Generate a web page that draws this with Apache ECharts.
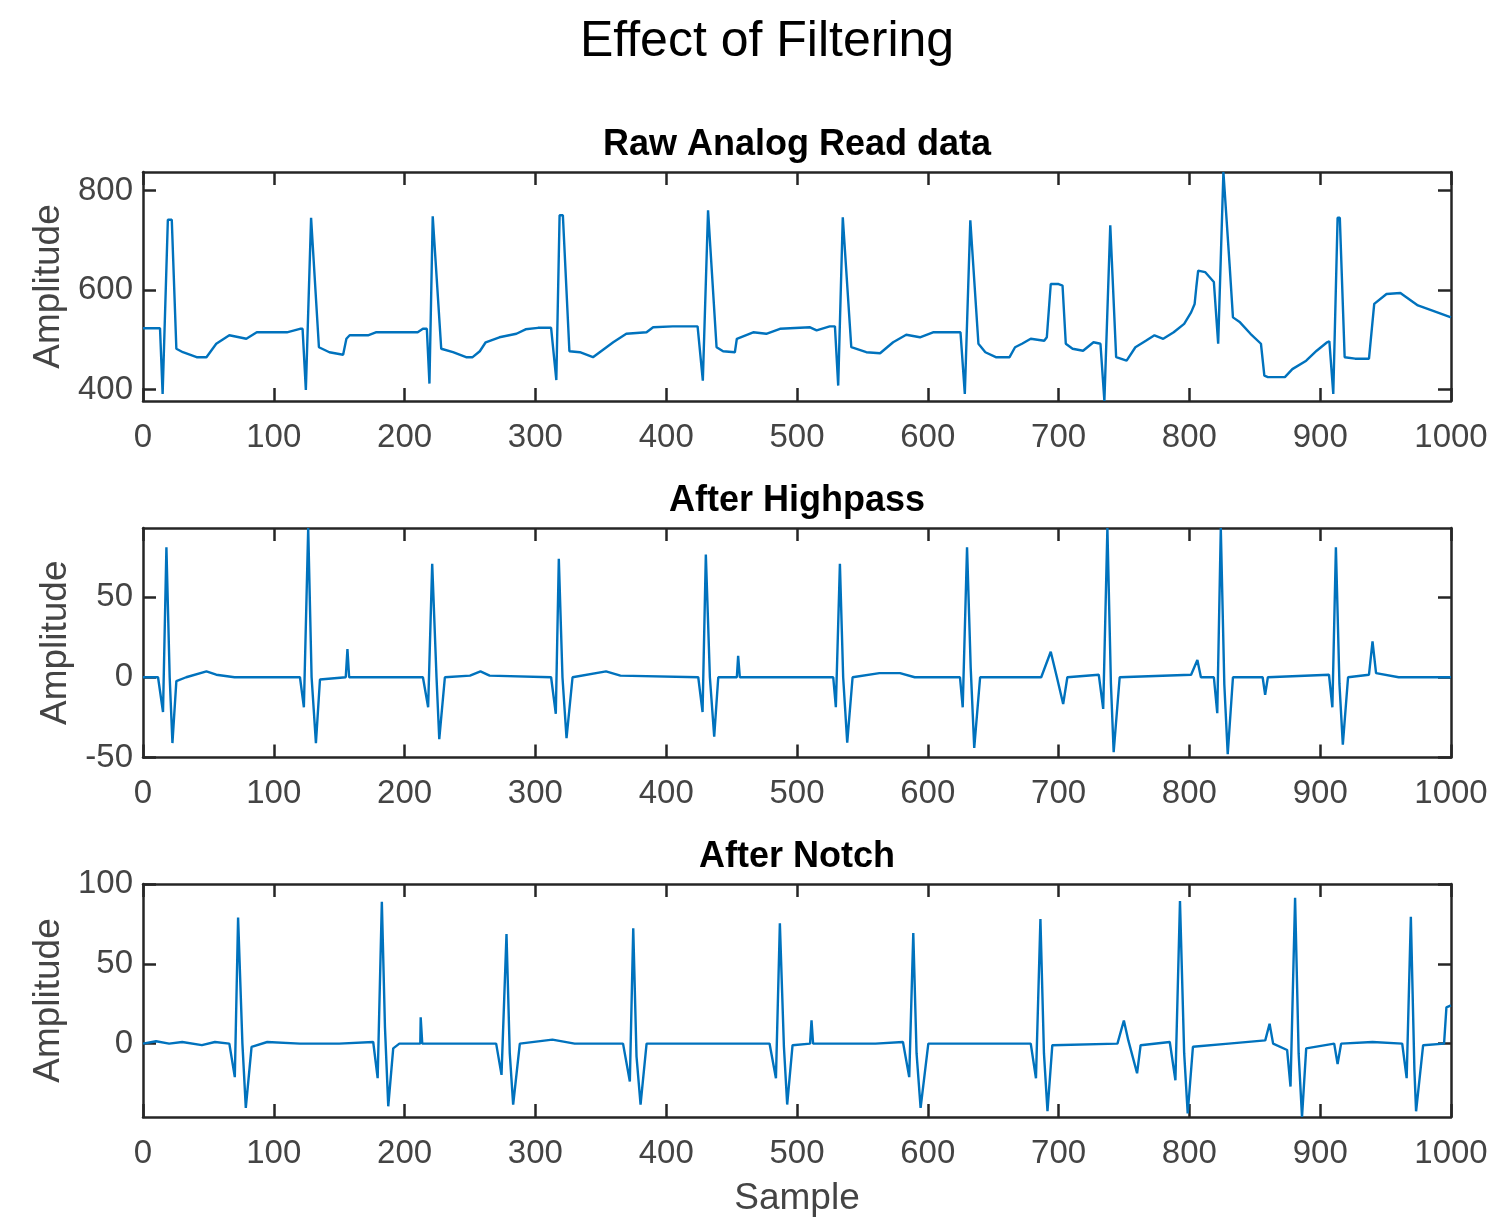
<!DOCTYPE html>
<html>
<head>
<meta charset="utf-8">
<title>Effect of Filtering</title>
<script src="https://cdn.jsdelivr.net/npm/echarts@6/dist/echarts.min.js"></script>
<style>
  html, body { margin: 0; padding: 0; background: #fff; }
  #chart { width: 1510px; height: 1219px; }
</style>
</head>
<body>
<div id="chart"></div>
<script>
// [sample, amplitude]
const rawPoints = [
  [0, 523], [13, 523], [15, 391], [19, 741], [22, 741], [25.5, 482], [30.5, 475], [41, 465], [48.5, 465],
  [56, 492], [66, 509], [79, 502], [87, 515], [110, 515], [120, 522], [122, 522],
  [124.5, 399], [128.5, 745], [130, 745], [134.5, 485], [142.5, 475], [153, 470], [155.5, 502], [158, 509],
  [172, 509], [178, 515], [210, 515], [214, 522], [217, 522],
  [219, 412], [221.5, 748], [223, 748], [228, 482], [237, 475], [247, 465], [252, 465], [257.5, 477],
  [262, 495], [272.5, 505], [285.5, 512], [292.5, 521], [302, 524], [312, 524],
  [316, 419], [318.5, 750], [321, 750], [326, 477], [334, 475], [344, 465], [359.5, 495], [369.5, 512],
  [385, 515], [390, 525], [405, 527], [424, 527],
  [428, 418], [432, 760], [433.5, 760], [438.5, 485], [443.5, 477], [452.5, 475], [454, 502], [466.5, 515],
  [476.5, 512], [487, 522], [510, 525], [515, 519], [525, 527], [529, 527],
  [531.5, 408], [535, 746], [536.5, 746], [541.5, 485], [553, 475], [563.5, 473], [573.5, 495], [583.5, 510],
  [594, 505], [604, 515], [625, 515],
  [628.3, 391], [632.5, 740], [634, 740], [638.7, 492], [644, 475], [652, 465], [662.5, 465], [666.7, 485],
  [672, 492], [678.7, 502], [689, 498], [691, 505], [694, 612], [700, 612], [703, 609], [705.5, 492],
  [710.7, 482], [718.7, 478], [726.7, 495], [732, 492],
  [735, 377], [739.5, 730], [741, 730], [744, 465], [752, 458], [758.7, 485], [766.7, 498], [773.3, 509],
  [780, 502], [788, 515], [796, 532], [801.3, 555], [804, 572], [805.3, 606], [806.7, 639], [812, 636],
  [818.7, 616], [822, 492],
  [826, 837], [827.5, 837], [830.7, 652], [833.3, 545], [838.7, 535], [846.7, 512], [854.7, 492],
  [857.3, 428], [860, 425], [873, 425], [878.7, 441], [889.3, 458], [897.3, 478], [905.3, 495], [907, 497],
  [910, 391], [913.3, 745], [915, 745], [918.7, 465], [926.7, 462], [937.3, 462], [941.3, 572],
  [950.7, 592], [961.3, 594], [974.7, 569], [985.3, 559], [1000, 545]
]

const highpassPoints = [
  [0, 0], [11.5, 0], [15.3, -21.7], [17.9, 81], [20.4, 0], [22.5, -41], [25.5, -2.4], [33, 0], [48.5, 3.7],
  [56, 1.6], [70, 0], [120, 0],
  [123, -18.7], [126.3, 93], [128.9, 0], [132.2, -41], [135.3, -1.4], [155, 0], [156.3, 17.5], [157.6, 0], [214, 0],
  [218, -18.7], [221.1, 70.7], [224.4, 0], [226.5, -38.6], [230.8, 0], [250, 1], [258, 3.7], [265, 1], [312, 0],
  [315.6, -22.8], [317.9, 73.8], [320.7, 0], [323.8, -38], [328.4, 0], [354, 3.7], [365, 1], [424.5, 0],
  [427.8, -21.7], [430.3, 76.4], [433.4, 0], [436.7, -37], [439.8, 0], [454, 0], [455, 13.4], [456.3, 0], [527.7, 0],
  [529.7, -18.7], [532.8, 70.7], [535.3, 0], [538.4, -40.7], [542.5, 0], [563, 2.6], [578.7, 2.6], [590, 0], [624.6, 0],
  [626.7, -18.7], [630, 81], [632.8, 6], [635.5, -44], [640, 0], [686.7, 0], [694, 15.9], [698.7, 0],
  [703.5, -16.7], [706.7, 0], [730.7, 1.6],
  [734.1, -19.7], [737.3, 93], [740, -4], [742.1, -46.7], [746.7, 0], [801.3, 1.6], [806.1, 10.8], [808.8, 0], [818.7, 0],
  [821.3, -22.4], [824, 93], [826.7, -4.5], [829.3, -48], [833.3, 0], [856, 0], [857.9, -11], [860, 0], [906.7, 1.6],
  [909.3, -18.7], [912, 81], [914.7, -4], [917.3, -42], [921.3, 0], [937.3, 1.6], [940, 22.4], [942.7, 2.6],
  [960, 0], [1000, 0]
]

const notchPoints = [
  [0, 0], [10, 1.5], [20, 0], [30, 1], [45, -1], [55, 1], [66, 0],
  [70.2, -21], [72.7, 79], [76, 0], [78.6, -40.3], [83, -2], [95, 1], [120, 0], [150, 0], [176, 1],
  [179.4, -21.7], [182.6, 88.8], [185, 10], [187.5, -39.3], [191.3, -3], [196, 0], [212, 0], [212.3, 16.5],
  [213.5, 0], [240, 0], [270, 0],
  [274.1, -19.6], [277.9, 68.6], [280.4, -6], [283, -38.2], [288.1, 0], [313, 2.5], [330, 0], [367, 0],
  [372.2, -23.8], [374.8, 72.3], [377.3, -8], [380.4, -38.2], [385, 0], [420, 0], [479, 0],
  [483.9, -21.7], [486.9, 75.4], [490, -2], [492.5, -38.2], [496.6, -1], [510, 0], [511.1, 14.5], [512.3, 0],
  [560, 0], [581, 1],
  [585.8, -21], [588.9, 69.2], [591.4, -6], [594.5, -40.3], [600.4, 0], [640, 0], [678.7, 0],
  [682.7, -21.7], [686.1, 78.1], [688.8, -6], [691.5, -42.4], [695.2, -1], [745, 0], [749.9, 14.5], [753.3, 2],
  [760, -18.6], [762.7, -1], [785, 1],
  [789.3, -23], [792.8, 89.3], [796, -6], [798.7, -43.8], [802.7, -2], [830, 0], [858, 2], [861.3, 12.4],
  [864, 0], [874.7, -4],
  [877.3, -26.9], [880.8, 91.3], [883.5, -6], [886.1, -46], [889.3, -3], [910.7, 0], [913.3, -12.8], [916, 0],
  [940, 1], [962.7, 0],
  [966.1, -21.7], [969.3, 79.5], [972, -16], [973.3, -42.4], [978.7, -1], [994.7, 0], [996.5, 22.7], [1000, 24]
]

const sampleTicks = [0, 100, 200, 300, 400, 500, 600, 700, 800, 900, 1000]
const rawTicks = [400, 600, 800]
const highpassTicks = [-50, 0, 50]
const notchTicks = [0, 50, 100]

const panels = [
  { title: 'Raw Analog Read data', data: rawPoints, ticks: rawTicks, min: 377, max: 837, top: 172, height: 229, nameGap: 76 },
  { title: 'After Highpass', data: highpassPoints, ticks: highpassTicks, min: -50, max: 93, top: 528, height: 229.5, nameGap: 69 },
  { title: 'After Notch', data: notchPoints, ticks: notchTicks, min: -46, max: 100, top: 884, height: 233, nameGap: 76 }
]

const axisColor = '#262626'
const labelColor = '#444'
const fontFamily = '"Liberation Sans", Arial, Helvetica, sans-serif'
const plain = v => String(v) // no thousands separator, like MATLAB

const chart = echarts.init(document.getElementById('chart'))

const grid = []
const xAxis = []
const yAxis = []
const series = []
const title = [{
  text: 'Effect of Filtering',
  left: 767,
  top: 17,
  textAlign: 'center',
  padding: 0,
  textStyle: { fontFamily, fontSize: 50, fontWeight: 'normal', color: '#000' }
}]

panels.forEach((p, i) => {
  grid.push({ left: 143, top: p.top, width: 1308, height: p.height })
  title.push({
    text: p.title,
    left: 797,
    top: p.top - 45,
    textAlign: 'center',
    padding: 0,
    textStyle: { fontFamily, fontSize: 36, fontWeight: 'bold', color: '#000' }
  })
  const line = { show: true, onZero: false, lineStyle: { color: axisColor, width: 2.5 } }
  const tick = values => ({ inside: true, length: 13, customValues: values, lineStyle: { color: axisColor, width: 2.5 } })
  // bottom x axis with labels, top x axis only ticks (MATLAB box)
  xAxis.push({
    type: 'value', gridIndex: i, position: 'bottom', min: 0, max: 1000,
    axisLine: line,
    axisTick: tick(sampleTicks),
    axisLabel: { customValues: sampleTicks, formatter: plain, margin: 20, fontFamily, fontSize: 33, color: labelColor },
    splitLine: { show: false },
    name: i === 2 ? 'Sample' : '',
    nameLocation: 'middle',
    nameGap: 63,
    nameTextStyle: { fontFamily, fontSize: 37, color: labelColor }
  })
  xAxis.push({
    type: 'value', gridIndex: i, position: 'top', min: 0, max: 1000,
    axisLine: line,
    axisTick: tick(sampleTicks),
    axisLabel: { show: false },
    splitLine: { show: false }
  })
  yAxis.push({
    type: 'value', gridIndex: i, position: 'left', min: p.min, max: p.max,
    axisLine: line,
    axisTick: tick(p.ticks),
    axisLabel: { customValues: p.ticks, formatter: plain, margin: 10, fontFamily, fontSize: 33, color: labelColor },
    splitLine: { show: false },
    name: 'Amplitude',
    nameLocation: 'middle',
    nameGap: p.nameGap,
    nameTextStyle: { fontFamily, fontSize: 37, color: labelColor }
  })
  yAxis.push({
    type: 'value', gridIndex: i, position: 'right', min: p.min, max: p.max,
    axisLine: line,
    axisTick: tick(p.ticks),
    axisLabel: { show: false },
    splitLine: { show: false }
  })
  series.push({
    type: 'line',
    xAxisIndex: i * 2,
    yAxisIndex: i * 2,
    data: p.data,
    showSymbol: false,
    clip: true,
    lineStyle: { color: '#0072BD', width: 2.4 },
    itemStyle: { color: '#0072BD' }
  })
})

chart.setOption({
  animation: false,
  backgroundColor: '#fff',
  title,
  grid,
  xAxis,
  yAxis,
  series
})
</script>
</body>
</html>
